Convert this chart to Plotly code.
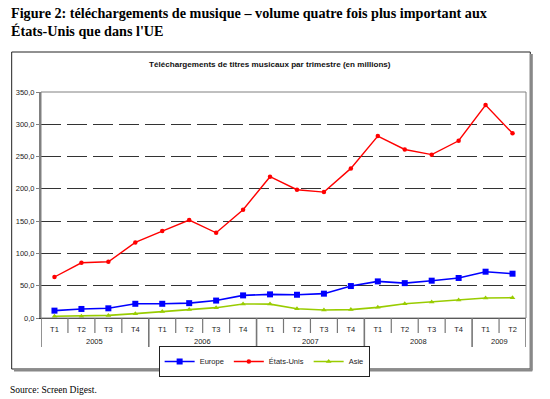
import plotly.graph_objects as go

# ---- data ----
years = ["2005"] * 4 + ["2006"] * 4 + ["2007"] * 4 + ["2008"] * 4 + ["2009"] * 2
quarters = ["T1", "T2", "T3", "T4", "T1", "T2", "T3", "T4", "T1", "T2", "T3", "T4",
            "T1", "T2", "T3", "T4", "T1", "T2"]
europe = [11.4, 14, 15, 22, 22, 23, 27, 35, 36.6, 36, 37.7, 49.5, 56.7, 54, 57.8, 62, 71.7, 68.6]
etats_unis = [63.5, 85.5, 87, 117, 134.7, 151.7, 132, 167.7, 218.8, 198.7, 195, 231.7,
              281.7, 261, 253, 274.5, 329.7, 286]
asie = [2.6, 2.8, 4, 6.7, 10, 13, 16, 21.7, 21.5, 14.4, 12.4, 13, 16.5, 22, 24.8, 27.9, 31, 31.5]
y_ticks = [0, 50, 100, 150, 200, 250, 300, 350]

# ---- layout geometry (pixels) ----
W, H = 550, 399
PL, PR, PT, PB = 41, 525.7, 92, 318  # plot area


def px(x):
    return (x - PL) / (PR - PL)


def py(y):
    return (PB - y) / (PB - PT)


sans = "Liberation Sans, Arial, sans-serif"
serif = "Liberation Serif, Times New Roman, serif"

idx = list(range(len(quarters)))

fig = go.Figure()
fig.add_trace(go.Scatter(x=idx, y=europe, name="Europe", mode="lines+markers",
                         line=dict(color="#0000FF", width=1.6),
                         marker=dict(symbol="square", size=6, color="#0000FF")))
fig.add_trace(go.Scatter(x=idx, y=etats_unis, name="États-Unis", mode="lines+markers",
                         line=dict(color="#FF0000", width=1.4),
                         marker=dict(symbol="circle", size=4.5, color="#FF0000")))
fig.add_trace(go.Scatter(x=idx, y=asie, name="Asie", mode="lines+markers",
                         line=dict(color="#99CC00", width=1.6),
                         marker=dict(symbol="triangle-up", size=5, color="#99CC00")))

shapes = [
    # outer frame shadow
    dict(type="line", xref="paper", yref="paper", x0=px(531), x1=px(531), y0=py(54), y1=py(370.5),
         line=dict(color="#888888", width=3)),
    dict(type="line", xref="paper", yref="paper", x0=px(14), x1=px(532), y0=py(370.5), y1=py(370.5),
         line=dict(color="#888888", width=2)),
    # outer frame
    dict(type="rect", xref="paper", yref="paper", x0=px(11.7), x1=px(530), y0=py(52), y1=py(369),
         line=dict(color="#222222", width=1), layer="below"),
    # plot border
    dict(type="rect", xref="paper", yref="paper", x0=0, x1=1, y0=0, y1=1,
         line=dict(color="#808080", width=1), layer="above"),
]

# category boundary ticks and year dividers
annotations = []
year_bounds = [-0.5]
for i in range(1, len(years)):
    if years[i] != years[i - 1]:
        year_bounds.append(i - 0.5)
year_bounds.append(len(years) - 0.5)
for i in range(len(quarters) - 1):
    b = i + 0.5
    if b in year_bounds:
        continue
    shapes.append(dict(type="line", xref="x", yref="paper", x0=b, x1=b, y0=0, y1=py(333),
                       line=dict(color="#777777", width=1.2)))
for b in year_bounds:
    shapes.append(dict(type="line", xref="x", yref="paper", x0=b, x1=b, y0=0, y1=py(347),
                       line=dict(color="#777777", width=1.6)))
for k in range(len(year_bounds) - 1):
    a, b = year_bounds[k], year_bounds[k + 1]
    annotations.append(dict(xref="x", yref="paper", x=(a + b) / 2, y=py(341.5),
                            xanchor="center", yanchor="middle", showarrow=False,
                            text=years[int(a + 0.5)],
                            font=dict(family=sans, size=7.5, color="#222222")))

annotations += [
    dict(xref="paper", yref="paper", x=px(9), y=py(3), xanchor="left", yanchor="top",
         align="left", showarrow=False,
         text="<b>Figure 2: téléchargements de musique – volume quatre fois plus important aux<br>États-Unis que dans l'UE</b>",
         font=dict(family=serif, size=14.2, color="black")),
    dict(xref="paper", yref="paper", x=px(270), y=py(65), xanchor="center", yanchor="middle",
         showarrow=False,
         text="<b>Téléchargements de titres musicaux par trimestre (en millions)</b>",
         font=dict(family=sans, size=8.1, color="#111111")),
    dict(xref="paper", yref="paper", x=px(8), y=py(390), xanchor="left", yanchor="middle",
         showarrow=False, text="Source: Screen Digest.",
         font=dict(family=serif, size=9.5, color="black")),
]

fig.update_layout(
    width=W, height=H,
    margin=dict(l=PL, r=W - PR, t=PT, b=H - PB, pad=0, autoexpand=False),
    paper_bgcolor="white", plot_bgcolor="white",
    separators=", ",
    font=dict(family=sans, size=7.5, color="#222222"),
    showlegend=True,
    legend=dict(orientation="h", x=px(264), xanchor="center", y=py(346), yanchor="top",
                bordercolor="#222222", borderwidth=1, bgcolor="white",
                font=dict(family=sans, size=7.5, color="#222222"),
                itemwidth=30, tracegroupgap=0),
    xaxis=dict(range=[-0.5, len(quarters) - 0.5], tickvals=idx, ticktext=quarters,
               showline=True, linecolor="#333333", linewidth=1,
               ticks="", ticklabelstandoff=4,
               tickfont=dict(family=sans, size=7.5, color="#222222"),
               showgrid=False, zeroline=False, automargin=False, fixedrange=True),
    yaxis=dict(range=[0, 350], tickvals=y_ticks, tickformat=".1f",
               showline=True, linecolor="#808080", linewidth=2,
               ticks="outside", ticklen=3, tickcolor="#808080",
               showgrid=True, gridcolor="#333333", gridwidth=1.2, griddash="20px,6px",
               zeroline=False, automargin=False, fixedrange=True,
               tickfont=dict(family=sans, size=7.5, color="#222222")),
    shapes=shapes,
    annotations=annotations,
)

fig.write_html("out.html", config={"displayModeBar": False},
               post_script="document.body.style.margin='0';")
